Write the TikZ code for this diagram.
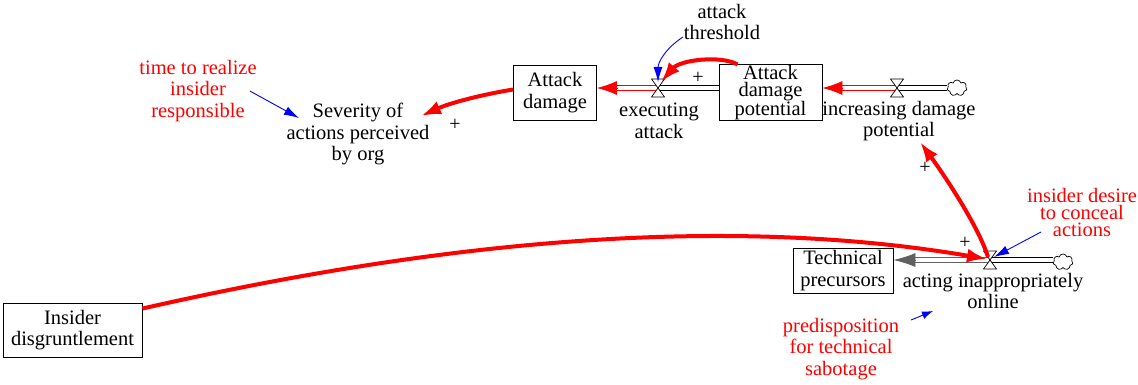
\documentclass[tikz,border=0pt]{standalone}
\usepackage{fontspec}
\setmainfont{Liberation Serif}
\newfontfamily\tnr{Liberation Serif}
\usetikzlibrary{arrows.meta,shapes.symbols}
\tikzset{
  valve/.pic={\draw[fill=white,line width=0.7pt] (-6.5,-9)--(6.5,-9)--(-6.5,9)--(6.5,9)--cycle;},
}
\begin{document}
\begin{tikzpicture}[x=1pt,y=-1pt,
  every node/.style={font=\tnr\fontsize{20.5}{21.5}\selectfont, align=center, inner sep=0pt},
  aux/.style={text=red},
  stock/.style={draw, line width=0.9pt, fill=white},
  link/.style={draw=red, line width=4pt, -{Latex[length=20pt,width=14pt]}},
  blink/.style={draw=blue, line width=0.9pt, -{Latex[length=15pt,width=9pt]}},
  pipeK/.style={draw=black, double=white, double distance=3.5pt, line width=0.9pt},
  pipeR/.style={draw=red, double=white, double distance=3.5pt, line width=0.9pt},
  pipeG/.style={draw=pipegray, double=white, double distance=3.5pt, line width=0.9pt},
  cloudn/.style={cloud, cloud puffs=7, draw, fill=white, minimum width=20pt, minimum height=16pt, line width=0.7pt, inner sep=0pt},
  plus/.style={font=\tnr\fontsize{20}{20}\selectfont}
]
\definecolor{pipegray}{HTML}{606060}
\useasboundingbox (0,0) rectangle (1138,385);

% stocks
\node[stock, minimum width=83pt, minimum height=55pt] (ad) at (555,92.5) {Attack\\damage};
\node[stock, minimum width=103pt, minimum height=55pt, font=\tnr\fontsize{20.5}{17}\selectfont] (adp) at (770.5,92.5) {Attack\\damage\\potential};
\node[stock, minimum width=100pt, minimum height=45pt] (tp) at (843,270.5) {Technical\\precursors};
\node[stock, minimum width=139pt, minimum height=54pt] (id) at (72.5,330) {Insider\\disgruntlement};

% flow points
\coordinate (v1) at (658,88);
\coordinate (v2) at (897,88);
\coordinate (v3) at (990,260);
\node[cloudn] (c1) at (957,88) {};
\node[cloudn] (c3) at (1063,262) {};
\coordinate (adin) at (ad.east |- v1);
\coordinate (adpin) at (adp.east |- v2);
\coordinate (tpin) at (tp.east |- v3);

% pipes
\draw[pipeR, shorten >=18pt] (v1) -- (adin);
\draw[red, line width=0.8pt, -{Latex[length=20pt,width=14pt]}] ([xshift=20pt]adin) -- (adin);
\draw[pipeK] (adp.west |- v1) -- (v1);
\draw[pipeR, shorten >=18pt] (v2) -- (adpin);
\draw[red, line width=0.8pt, -{Latex[length=20pt,width=14pt]}] ([xshift=20pt]adpin) -- (adpin);
\draw[pipeK] (c1.west |- v2) -- (v2);
\draw[pipeG, shorten >=18pt] (v3) -- (tpin);
\draw[pipegray, line width=0.8pt, -{Latex[length=22pt,width=14pt]}] ([xshift=22pt]tpin) -- (tpin);
\draw[pipeK] (c3.west |- v3) -- (v3);

% valves
\pic at (v1) {valve};
\pic at (v2) {valve};
\pic at (v3) {valve};

% labels
\node (ea) at (659,121) {executing\\attack};
\node (idp) at (899,121) {increasing damage\\potential};
\node (aio) at (993,291) {acting inappropriately\\online};
\node (sev) at (358,134) {Severity of\\actions perceived\\by org};
\node (thr) at (722,22) {attack\\threshold};
\node[aux] (time) at (198,91) {time to realize\\insider\\responsible};
\node[aux, font=\tnr\fontsize{20.5}{17}\selectfont] (des) at (1082,212) {insider desire\\to conceal\\actions};
\node[aux] (pre) at (841,349) {predisposition\\for technical\\sabotage};

% plus signs
\node[plus] (p1) at (698,78) {+};
\node[plus] (p2) at (455,125) {+};
\node[plus] (p3) at (925,168) {+};
\node[plus] (p4) at (965,243) {+};

% causal links
\coordinate (sevin) at (421,116);
\coordinate (idpin) at (920,142);
\coordinate (throut) at (683,37);
\coordinate (sevin2) at (299,118);
\coordinate (desout) at (1041,232);
\coordinate (preout) at (911,320);
\coordinate (prein) at (933,311);

\draw[link] ([xshift=19pt]adp.north west) .. controls (720,55) and (680,60) .. ([xshift=3pt,yshift=6pt]v1);
\draw[link] ([yshift=3pt]ad.west) .. controls (480,95) and (450,103) .. (sevin);
\draw[link] ([yshift=-6pt]id.north east) .. controls (400,250) and (700,210) .. ([xshift=-3pt,yshift=1pt]v3);
\draw[link] ([xshift=-2pt,yshift=3pt]v3) .. controls (978,225) and (942,172) .. (idpin);

\draw[blink] (throut) .. controls (666,48) and (658,62) .. ([yshift=6pt]v1);
\draw[blink] ([xshift=-7pt]time.east) -- (sevin2);
\draw[blink] (desout) -- ([xshift=4pt,yshift=3pt]v3);
\draw[blink, -{Latex[length=11pt,width=8pt]}] (preout) -- (prein);
\end{tikzpicture}
\end{document}
